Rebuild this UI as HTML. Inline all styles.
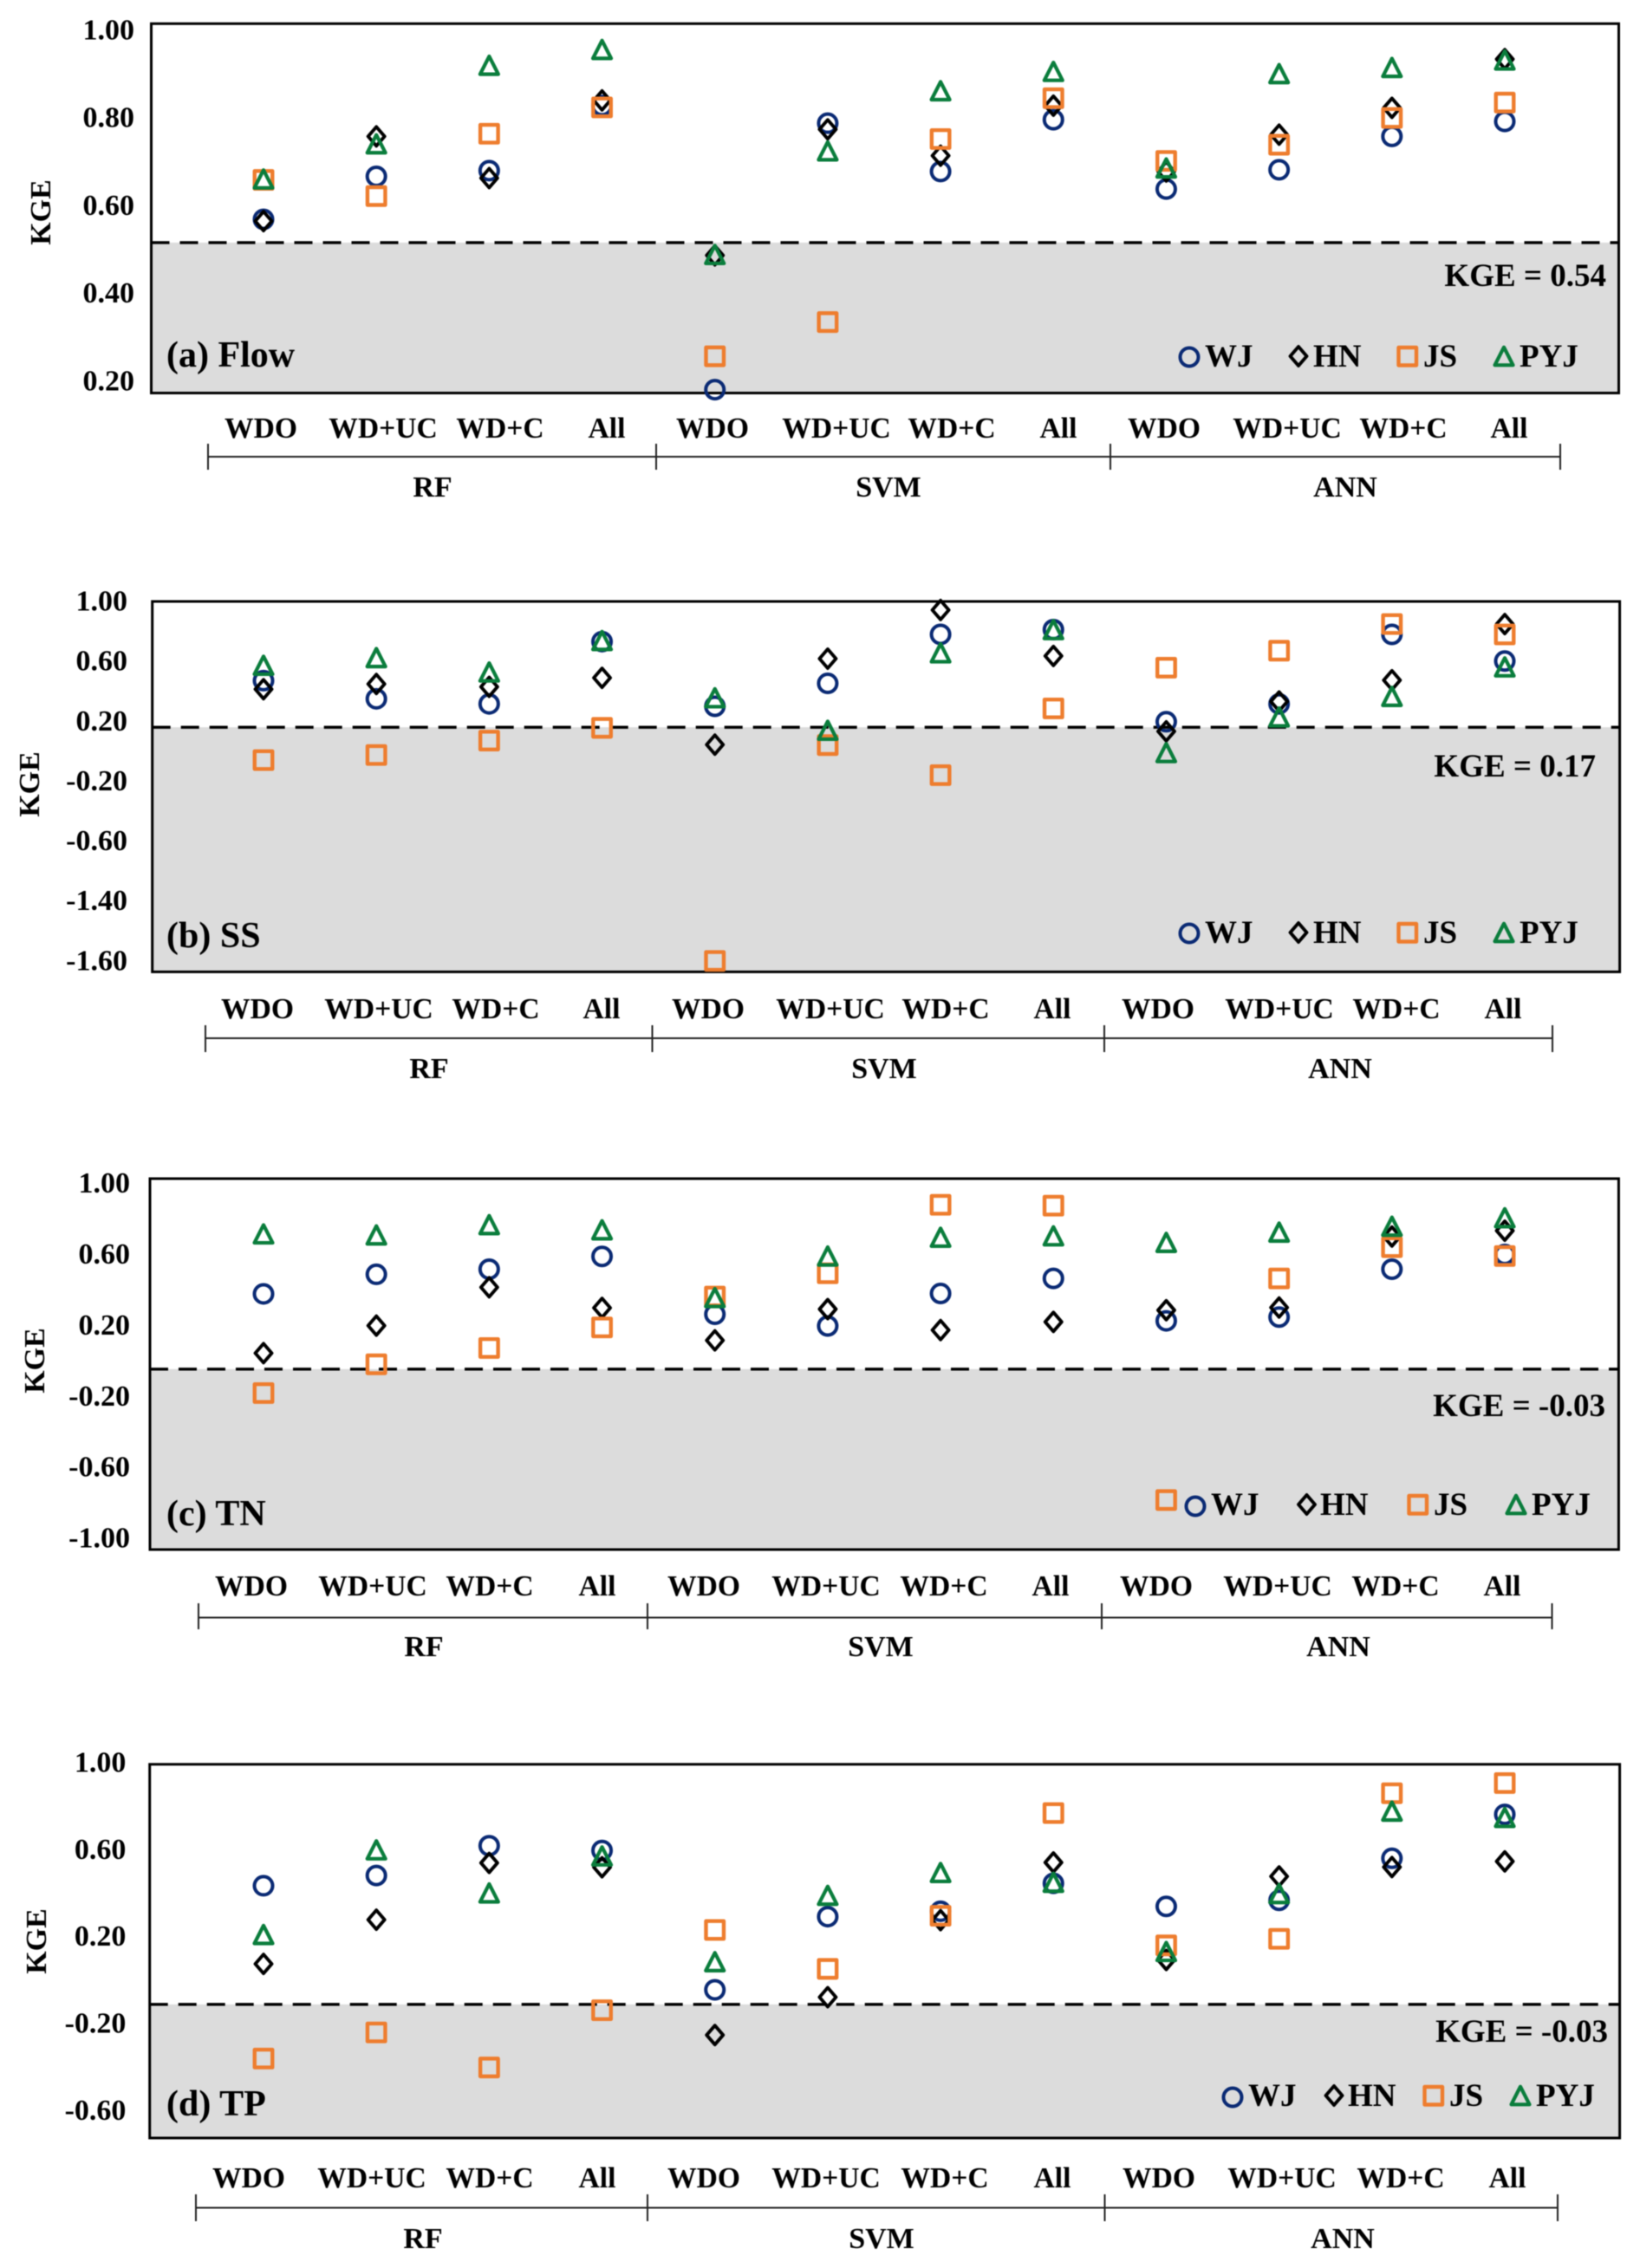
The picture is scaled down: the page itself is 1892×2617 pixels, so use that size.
<!DOCTYPE html>
<html lang="en">
<head>
<meta charset="utf-8">
<title>KGE by model and input set</title>
<style>
html,body{margin:0;padding:0;background:#fff}
svg{display:block;filter:blur(0.55px)}
text{font-family:"Liberation Serif",serif;font-weight:bold;fill:#000}
.xl{font-size:33.6px;text-anchor:middle}
.gl{font-size:34px;text-anchor:middle}
.pl{font-size:42px}
.ka{font-size:37px;text-anchor:end}
.lg{font-size:37px}
.yt{font-size:34px;text-anchor:middle}
.br{stroke:#222;stroke-width:2;fill:none}
.wj{fill:none;stroke:#0a2a74;stroke-width:4}
.hn{fill:none;stroke:#000;stroke-width:3.9;stroke-linejoin:round}
.js{fill:none;stroke:#ee7d2e;stroke-width:4.4;stroke-linejoin:round}
.py{fill:none;stroke:#0a7d3c;stroke-width:4.2;stroke-linejoin:round}
</style>
</head>
<body>
<svg id="figure" xmlns="http://www.w3.org/2000/svg" width="1892" height="2617" viewBox="0 0 1892 2617">

<!-- Panel A -->
<g>
<g id="plot-flow"></g>
<text class="yt" transform="translate(58,245) rotate(-90)">KGE</text>
<text class="pl" x="192" y="423">(a) Flow</text>
<text class="ka" x="1853" y="330">KGE = 0.54</text>
<g>
<ellipse class="wj" cx="1372" cy="412" rx="10.5" ry="10.5"/>
<text class="lg" x="1390" y="423">WJ</text>
<path class="hn" transform="translate(1498,411)" d="M0-11L9.500,0L0,11L-9.500,0Z"/>
<text class="lg" x="1515" y="423">HN</text>
<rect class="js" x="1613.500" y="401" width="20.500" height="20.500"/>
<text class="lg" x="1642" y="423">JS</text>
<path class="py" transform="translate(1735,411)" d="M0-10.300L10.500,10.300L-10.500,10.300Z"/>
<text class="lg" x="1753" y="423">PYJ</text>
</g>
<g>
<text class="xl" x="301" y="505">WDO</text>
<text class="xl" x="442" y="505">WD+UC</text>
<text class="xl" x="577" y="505">WD+C</text>
<text class="xl" x="700" y="505">All</text>
<text class="xl" x="822" y="505">WDO</text>
<text class="xl" x="965" y="505">WD+UC</text>
<text class="xl" x="1098" y="505">WD+C</text>
<text class="xl" x="1221" y="505">All</text>
<text class="xl" x="1343" y="505">WDO</text>
<text class="xl" x="1485" y="505">WD+UC</text>
<text class="xl" x="1619" y="505">WD+C</text>
<text class="xl" x="1741" y="505">All</text>
</g>
<path class="br" d="M240 512V542M757 512V542M1281 512V542M1800 512V542M240 527H1800"/>
<text class="gl" x="499" y="573">RF</text>
<text class="gl" x="1025" y="573">SVM</text>
<text class="gl" x="1552" y="573">ANN</text>
</g>

<!-- Panel B -->
<g>
<g id="plot-ss"></g>
<text class="yt" transform="translate(45,905) rotate(-90)">KGE</text>
<text class="pl" x="192" y="1093">(b) SS</text>
<text class="ka" x="1841" y="896">KGE = 0.17</text>
<g>
<ellipse class="wj" cx="1372" cy="1077" rx="10.5" ry="10.5"/>
<text class="lg" x="1390" y="1088">WJ</text>
<path class="hn" transform="translate(1498,1076)" d="M0-11L9.500,0L0,11L-9.500,0Z"/>
<text class="lg" x="1515" y="1088">HN</text>
<rect class="js" x="1613.500" y="1066" width="20.500" height="20.500"/>
<text class="lg" x="1642" y="1088">JS</text>
<path class="py" transform="translate(1735,1076)" d="M0-10.300L10.500,10.300L-10.500,10.300Z"/>
<text class="lg" x="1753" y="1088">PYJ</text>
</g>
<g>
<text class="xl" x="297" y="1175">WDO</text>
<text class="xl" x="437" y="1175">WD+UC</text>
<text class="xl" x="572" y="1175">WD+C</text>
<text class="xl" x="694" y="1175">All</text>
<text class="xl" x="817" y="1175">WDO</text>
<text class="xl" x="958" y="1175">WD+UC</text>
<text class="xl" x="1091" y="1175">WD+C</text>
<text class="xl" x="1214" y="1175">All</text>
<text class="xl" x="1336" y="1175">WDO</text>
<text class="xl" x="1476" y="1175">WD+UC</text>
<text class="xl" x="1611" y="1175">WD+C</text>
<text class="xl" x="1734" y="1175">All</text>
</g>
<path class="br" d="M237 1183V1214M752.500 1183V1214M1274 1183V1214M1791 1183V1214M237 1198H1791"/>
<text class="gl" x="495" y="1244">RF</text>
<text class="gl" x="1020" y="1244">SVM</text>
<text class="gl" x="1546" y="1244">ANN</text>
</g>

<!-- Panel C -->
<g>
<g id="plot-tn"></g>
<text class="yt" transform="translate(51,1570) rotate(-90)">KGE</text>
<text class="pl" x="192" y="1760">(c) TN</text>
<text class="ka" x="1852" y="1634">KGE = -0.03</text>
<g>
<ellipse class="wj" cx="1379" cy="1738" rx="10.5" ry="10.5"/>
<text class="lg" x="1397" y="1748">WJ</text>
<path class="hn" transform="translate(1507.500,1736)" d="M0-11L9.500,0L0,11L-9.500,0Z"/>
<text class="lg" x="1523" y="1748">HN</text>
<rect class="js" x="1625.500" y="1726" width="20.500" height="20.500"/>
<text class="lg" x="1654" y="1748">JS</text>
<path class="py" transform="translate(1749,1736)" d="M0-10.300L10.500,10.300L-10.500,10.300Z"/>
<text class="lg" x="1767" y="1748">PYJ</text>
</g>
<g>
<text class="xl" x="290" y="1841">WDO</text>
<text class="xl" x="430" y="1841">WD+UC</text>
<text class="xl" x="565" y="1841">WD+C</text>
<text class="xl" x="689" y="1841">All</text>
<text class="xl" x="812" y="1841">WDO</text>
<text class="xl" x="953" y="1841">WD+UC</text>
<text class="xl" x="1089" y="1841">WD+C</text>
<text class="xl" x="1212" y="1841">All</text>
<text class="xl" x="1334" y="1841">WDO</text>
<text class="xl" x="1474" y="1841">WD+UC</text>
<text class="xl" x="1610" y="1841">WD+C</text>
<text class="xl" x="1733" y="1841">All</text>
</g>
<path class="br" d="M229 1850V1880M747 1850V1880M1271 1850V1880M1790.500 1850V1880M229 1866.500H1790.500"/>
<text class="gl" x="489" y="1911">RF</text>
<text class="gl" x="1016" y="1911">SVM</text>
<text class="gl" x="1544" y="1911">ANN</text>
</g>

<!-- Panel D -->
<g>
<g id="plot-tp"></g>
<text class="yt" transform="translate(53,2240) rotate(-90)">KGE</text>
<text class="pl" x="192" y="2441">(d) TP</text>
<text class="ka" x="1855" y="2356">KGE = -0.03</text>
<g>
<ellipse class="wj" cx="1422" cy="2420" rx="10.5" ry="10.5"/>
<text class="lg" x="1440" y="2430">WJ</text>
<path class="hn" transform="translate(1539,2418)" d="M0-11L9.500,0L0,11L-9.500,0Z"/>
<text class="lg" x="1555" y="2430">HN</text>
<rect class="js" x="1643.500" y="2408" width="20.500" height="20.500"/>
<text class="lg" x="1672" y="2430">JS</text>
<path class="py" transform="translate(1754,2418)" d="M0-10.300L10.500,10.300L-10.500,10.300Z"/>
<text class="lg" x="1772" y="2430">PYJ</text>
</g>
<g>
<text class="xl" x="287" y="2524">WDO</text>
<text class="xl" x="429" y="2524">WD+UC</text>
<text class="xl" x="565" y="2524">WD+C</text>
<text class="xl" x="689" y="2524">All</text>
<text class="xl" x="812" y="2524">WDO</text>
<text class="xl" x="953" y="2524">WD+UC</text>
<text class="xl" x="1090" y="2524">WD+C</text>
<text class="xl" x="1214" y="2524">All</text>
<text class="xl" x="1337" y="2524">WDO</text>
<text class="xl" x="1479" y="2524">WD+UC</text>
<text class="xl" x="1616" y="2524">WD+C</text>
<text class="xl" x="1739" y="2524">All</text>
</g>
<path class="br" d="M226 2532V2563M747 2532V2563M1274.500 2532V2563M1797 2532V2563M226 2547.500H1797"/>
<text class="gl" x="488" y="2594">RF</text>
<text class="gl" x="1017" y="2594">SVM</text>
<text class="gl" x="1549" y="2594">ANN</text>
</g>
</svg>

<script>
// Tick labels per panel (printed axis values)
const flowTicks = [1.00, 0.80, 0.60, 0.40, 0.20];
const ssTicks = [1.00, 0.60, 0.20, -0.20, -0.60, -1.40, -1.60];
const tnTicks = [1.00, 0.60, 0.20, -0.20, -0.60, -1.00];
const tpTicks = [1.00, 0.60, 0.20, -0.20, -0.60];

// Categories: model + input set, in plotting order
const categories = ["RF WDO","RF WD+UC","RF WD+C","RF All","SVM WDO","SVM WD+UC","SVM WD+C","SVM All","ANN WDO","ANN WD+UC","ANN WD+C","ANN All"];

// Dashed cut-off line as read against the printed ticks
const flowCutoff = [0.516];
const ssCutoff = [0.160];
const tnCutoff = [-0.046];
const tpCutoff = [-0.111];

// (a) Flow
const flowWJ = [0.569,0.667,0.680,0.828,0.181,0.788,0.678,0.796,0.638,0.682,0.758,0.792];
const flowHN = [0.565,0.758,0.663,0.840,0.487,0.774,0.714,0.828,0.678,0.762,0.823,0.934];
const flowJS = [0.659,0.622,0.764,0.824,0.257,0.335,0.752,0.845,0.702,0.739,0.800,0.835];
const flowPYJ = [0.661,0.741,0.920,0.956,0.489,0.725,0.862,0.906,0.686,0.901,0.915,0.932];

// (b) SS
const ssWJ = [0.471,0.350,0.316,0.732,0.300,0.453,0.780,0.812,0.197,0.316,0.780,0.602];
const ssHN = [0.414,0.449,0.430,0.490,0.044,0.618,0.943,0.636,0.133,0.332,0.474,0.849];
const ssJS = [-0.059,-0.025,0.071,0.156,-1.600,0.041,-0.160,0.286,0.558,0.671,0.849,0.780];
const ssPYJ = [0.574,0.625,0.529,0.739,0.357,0.140,0.657,0.812,-0.009,0.229,0.366,0.563];

// (c) TN
const tnWJ = [0.378,0.488,0.517,0.589,0.263,0.197,0.380,0.465,0.226,0.247,0.517,0.600];
const tnHN = [0.044,0.199,0.415,0.299,0.116,0.292,0.174,0.220,0.286,0.301,0.701,0.734];
const tnJS = [-0.181,-0.019,0.073,0.189,0.363,0.494,0.880,0.875,-0.784,0.465,0.641,0.591];
const tnPYJ = [0.716,0.710,0.768,0.739,0.357,0.591,0.697,0.705,0.668,0.726,0.759,0.807];

// (d) TP
const tpWJ = [0.434,0.481,0.618,0.596,-0.044,0.292,0.317,0.445,0.339,0.367,0.560,0.762];
const tpHN = [0.075,0.278,0.539,0.519,-0.252,-0.078,0.276,0.541,0.093,0.477,0.520,0.546];
const tpJS = [-0.360,-0.240,-0.401,-0.138,0.231,0.052,0.296,0.768,0.160,0.190,0.859,0.906];
const tpPYJ = [0.210,0.599,0.401,0.571,0.085,0.390,0.495,0.450,0.132,0.398,0.777,0.748];

const SVGNS = "http://www.w3.org/2000/svg";

function make(parent, tag, attrs) {
  const el = document.createElementNS(SVGNS, tag);
  for (const k in attrs) el.setAttribute(k, attrs[k]);
  parent.appendChild(el);
  return el;
}

// x axis: evenly spaced category slots
function xOf(i) { return 304 + i * (1736 - 304) / (categories.length - 1); }

// y axis: piecewise-linear through the printed ticks, which sit evenly spaced
function makeY(ticks, first, step) {
  return function (v) {
    let s = 0;
    while (s < ticks.length - 2 && v < ticks[s + 1]) s++;
    const f = (v - ticks[s]) / (ticks[s + 1] - ticks[s]);
    return first + (s + f) * step;
  };
}

function drawPanel(p) {
  const g = document.getElementById(p.id);
  const y = makeY(p.ticks, p.tickTop, p.tickStep);
  const cut = y(p.cutoff[0]);

  const shade = make(g, "rect", {x: p.left, y: cut, width: p.right - p.left, height: p.bottom - cut, fill: "#dcdcdc"});
  
  

  const frame = make(g, "rect", {x: p.left, y: p.top, width: p.right - p.left, height: p.bottom - p.top, fill: "none", stroke: "#000", "stroke-width": 3});
  
  

  const dash = make(g, "line", {x1: p.left, x2: p.right, y1: cut, y2: cut, stroke: "#000", "stroke-width": 3.4, "stroke-dasharray": "21 12"});
  
  

  p.ticks.forEach(function (t) {
    const lab = make(g, "text", {x: p.tickRight, y: y(t) + 10.5, "text-anchor": "end", "font-size": 34});
    lab.textContent = t.toFixed(2);
    
    
  });

  p.wj.forEach(function (v, i) {
    const m = make(g, "circle", {cx: xOf(i), cy: y(v), r: 10.5, "class": "wj"});
    
    
  });
  p.hn.forEach(function (v, i) {
    const m = make(g, "path", {d: "M0-11L9.500,0L0,11L-9.500,0Z", transform: "translate(" + xOf(i) + "," + y(v) + ")", "class": "hn"});
    
    
  });
  p.js.forEach(function (v, i) {
    const m = make(g, "rect", {x: xOf(i) - 10.25, y: y(v) - 10.25, width: 20.5, height: 20.5, "class": "js"});
    
    
  });
  p.pyj.forEach(function (v, i) {
    const m = make(g, "path", {d: "M0-10.300L10.500,10.300L-10.500,10.300Z", transform: "translate(" + xOf(i) + "," + y(v) + ")", "class": "py"});
    
    
  });
}

drawPanel({id: "plot-flow", ticks: flowTicks, cutoff: flowCutoff, wj: flowWJ, hn: flowHN, js: flowJS, pyj: flowPYJ,
  left: 174.5, right: 1867.5, top: 27.3, bottom: 453.5, tickTop: 34.8, tickStep: 101.3, tickRight: 155});
drawPanel({id: "plot-ss", ticks: ssTicks, cutoff: ssCutoff, wj: ssWJ, hn: ssHN, js: ssJS, pyj: ssPYJ,
  left: 175.7, right: 1868.6, top: 694, bottom: 1121.4, tickTop: 694, tickStep: 69.13, tickRight: 147});
drawPanel({id: "plot-tn", ticks: tnTicks, cutoff: tnCutoff, wj: tnWJ, hn: tnHN, js: tnJS, pyj: tnPYJ,
  left: 173, right: 1867.4, top: 1360, bottom: 1788, tickTop: 1365.6, tickStep: 81.9, tickRight: 150});
drawPanel({id: "plot-tp", ticks: tpTicks, cutoff: tpCutoff, wj: tpWJ, hn: tpHN, js: tpJS, pyj: tpPYJ,
  left: 172.7, right: 1868.6, top: 2035.8, bottom: 2467, tickTop: 2033.8, tickStep: 100.45, tickRight: 145.4});
</script>
</body>
</html>
